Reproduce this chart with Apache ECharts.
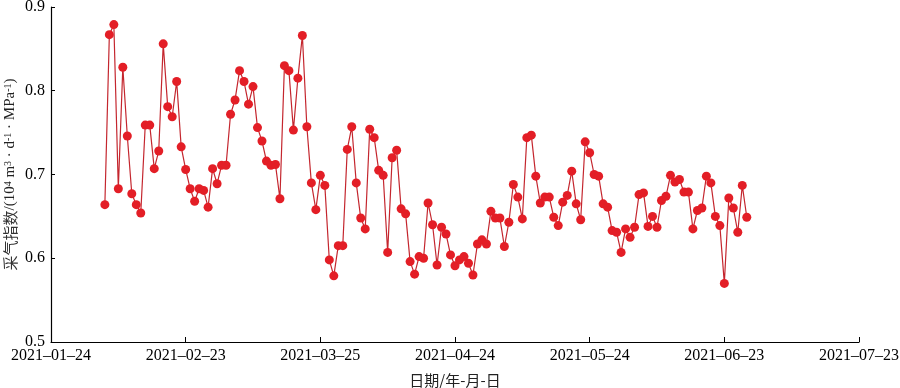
<!DOCTYPE html>
<html>
<head>
<meta charset="utf-8">
<script src="https://cdn.jsdelivr.net/npm/echarts@6/dist/echarts.min.js"></script>
<style>html,body{margin:0;padding:0;background:#fff;}#c{width:900px;height:388px;}</style>
</head>
<body>
<div id="c"></div>
<script>
// Daily data starting 2021-02-05
const startDate = '2021-02-05';
const axisStart = '2021-01-24';
const axisEnd = '2021-07-23';
const values = [
0.664,0.867,0.879,0.683,0.828,0.746,0.677,0.664,0.654,0.759,
0.759,0.707,0.728,0.856,0.781,0.769,0.811,0.733,0.706,0.683,
0.668,0.683,0.681,0.661,0.707,0.689,0.711,0.711,0.772,0.789,
0.824,0.811,0.784,0.805,0.756,0.740,0.716,0.711,0.712,0.671,
0.830,0.824,0.753,0.815,0.866,0.757,0.690,0.658,0.699,0.687,
0.598,0.579,0.615,0.615,0.730,0.757,0.690,0.648,0.635,0.754,
0.744,0.705,0.699,0.607,0.720,0.729,0.659,0.653,0.596,0.581,
0.602,0.600,0.666,0.640,0.592,0.637,0.629,0.604,0.591,0.598,
0.602,0.594,0.580,0.617,0.622,0.617,0.656,0.648,0.648,0.614,
0.643,0.688,0.673,0.647,0.744,0.747,0.698,0.666,0.673,0.673,
0.649,0.639,0.667,0.675,0.704,0.665,0.646,0.739,0.726,0.700,
0.698,0.665,0.661,0.633,0.631,0.607,0.635,0.625,0.637,0.676,
0.678,0.638,0.650,0.637,0.669,0.674,0.699,0.691,0.694,0.679,
0.679,0.635,0.657,0.660,0.698,0.690,0.650,0.639,0.570,0.672,
0.660,0.631,0.687,0.649
];
const yTicks = [0.5, 0.6, 0.7, 0.8, 0.9];

const DAY = 86400000;
const t0 = Date.parse(axisStart + 'T00:00:00Z');
const tStart = Date.parse(startDate + 'T00:00:00Z');
const tEnd = Date.parse(axisEnd + 'T00:00:00Z');
const offset = Math.round((tStart - t0) / DAY);
const xMax = Math.round((tEnd - t0) / DAY);
const data = values.map((v, i) => [offset + i, v]);

function fmt(d) {
  const dt = new Date(t0 + d * DAY);
  const y = dt.getUTCFullYear();
  const m = String(dt.getUTCMonth() + 1).padStart(2, '0');
  const dd = String(dt.getUTCDate()).padStart(2, '0');
  return y + '\u2013' + m + '\u2013' + dd;
}

const chart = echarts.init(document.getElementById('c'));
const serif = '"Liberation Serif","DejaVu Serif",serif';
const cjk = '"Noto Sans CJK SC","Noto Sans",sans-serif';
chart.setOption({
  animation: false,
  backgroundColor: '#fff',
  grid: { left: 51, right: 41, top: 7, bottom: 46, containLabel: false, outerBoundsMode: 'none' },
  xAxis: {
    type: 'value',
    min: 0, max: xMax, interval: 30,
    axisLine: { show: true, lineStyle: { color: '#000', width: 1.2 } },
    axisTick: { show: true, inside: true, length: 5, lineStyle: { color: '#000' } },
    splitLine: { show: false },
    axisLabel: { formatter: fmt, color: '#000', fontFamily: serif, fontSize: 16, margin: 6 },
    name: '日期/年-月-日',
    nameLocation: 'middle',
    nameGap: 31,
    nameMoveOverlap: false,
    nameTextStyle: { color: '#222', fontFamily: cjk, fontSize: 15 }
  },
  yAxis: {
    type: 'value',
    min: yTicks[0], max: yTicks[yTicks.length - 1], interval: 0.1,
    axisLine: { show: true, lineStyle: { color: '#000', width: 1.2 } },
    axisTick: { show: true, inside: true, length: 4, lineStyle: { color: '#000' } },
    splitLine: { show: false },
    axisLabel: { formatter: v => v.toFixed(1), color: '#000', fontFamily: serif, fontSize: 16, margin: 6 },
    name: '{cn|采气指数}{n|/(10}{s|4}{n| m}{s|3}{n| · d}{s|-1}{n| · MPa}{s|-1}{n|)}',
    nameLocation: 'middle',
    nameRotate: 90,
    nameGap: 33,
    nameMoveOverlap: false,
    nameTextStyle: {
      color: '#222',
      rich: {
        cn: { fontFamily: cjk, fontSize: 15, color: '#333' },
        n: { fontFamily: serif, fontSize: 15, color: '#222' },
        s: { fontFamily: serif, fontSize: 10, color: '#222', verticalAlign: 'top' }
      }
    }
  },
  series: [{
    type: 'line',
    data: data,
    symbol: 'circle',
    symbolSize: 9,
    showAllSymbol: true,
    lineStyle: { color: '#c4262e', width: 1.2 },
    itemStyle: { color: '#e31e26' }
  }]
});
</script>
</body>
</html>
